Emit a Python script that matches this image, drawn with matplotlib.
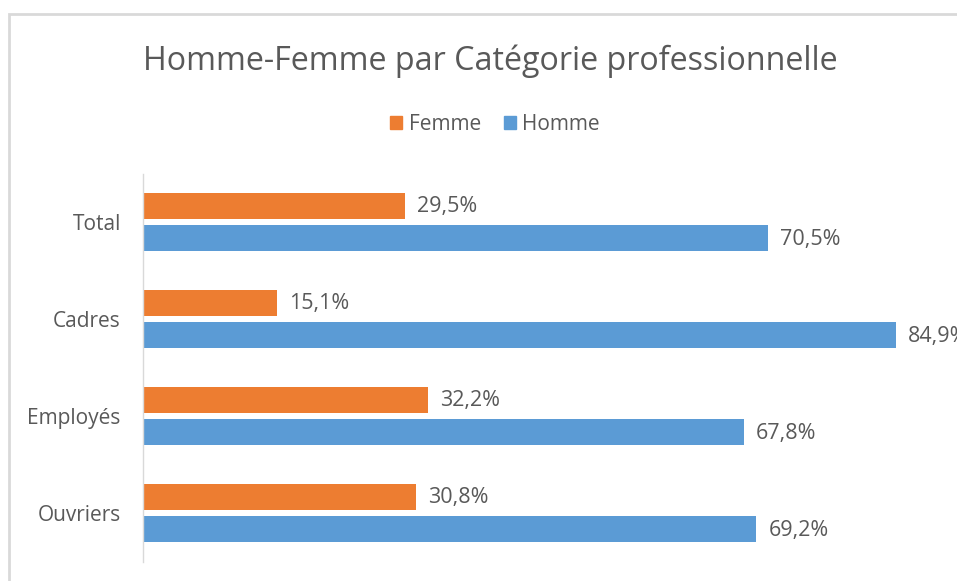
import matplotlib.pyplot as plt
from matplotlib.patches import Rectangle, Patch

# données
categories = ["Total", "Cadres", "Employés", "Ouvriers"]
femme = [29.5, 15.1, 32.2, 30.8]
homme = [70.5, 84.9, 67.8, 69.2]

orange = "#ED7D31"
bleu = "#5B9BD5"
gris = "#595959"

plt.rcParams["font.family"] = ["Open Sans", "DejaVu Sans"]

fig = plt.figure(figsize=(9.57, 5.81), dpi=100)

# cadre du graphique (coupé à droite et en bas)
fig.patches.append(Rectangle((9 / 957, -0.1), 1.2, 1 - 14 / 581 + 0.1,
                             transform=fig.transFigure, fill=False,
                             edgecolor="#d9d9d9", linewidth=2))

ax = fig.add_axes([143 / 957, 1 - 561.5 / 581, 1 - 143 / 957, (561.5 - 173.5) / 581])

y = list(range(len(categories)))
h = 0.258
off = 0.165
b1 = ax.barh([v - off for v in y], femme, height=h, color=orange, label="Femme")
b2 = ax.barh([v + off for v in y], homme, height=h, color=bleu, label="Homme")

for bars, vals in ((b1, femme), (b2, homme)):
    for rect, v in zip(bars, vals):
        ax.annotate(f"{v:.1f}%".replace(".", ","),
                    (rect.get_width(), rect.get_y() + rect.get_height() / 2),
                    xytext=(12, -1), textcoords="offset pixels",
                    va="center", ha="left", fontsize=15.5, color=gris,
                    annotation_clip=False)

ax.set_xlim(0, (957 - 143) / 8.865)
ax.set_ylim(3.5, -0.5)
ax.set_yticks(y)
ax.set_yticklabels(categories, fontsize=15, color=gris)
ax.tick_params(axis="y", length=0, pad=16)
ax.set_xticks([])
for s in ("top", "right", "bottom"):
    ax.spines[s].set_visible(False)
ax.spines["left"].set_color("#d9d9d9")
ax.spines["left"].set_linewidth(1)

fig.text(490 / 957, 1 - 70 / 581, "Homme-Femme par Catégorie professionnelle",
         ha="center", va="baseline", fontsize=23.2, color=gris)

fig.legend(handles=[Patch(color=orange, label="Femme"), Patch(color=bleu, label="Homme")],
           loc="center", bbox_to_anchor=(495 / 957, 1 - 124 / 581), ncol=2,
           frameon=False, fontsize=15, labelcolor=gris,
           handlelength=0.58, handleheight=0.58, handletextpad=0.3, columnspacing=1.1)

fig.savefig("out.png", dpi=100)
